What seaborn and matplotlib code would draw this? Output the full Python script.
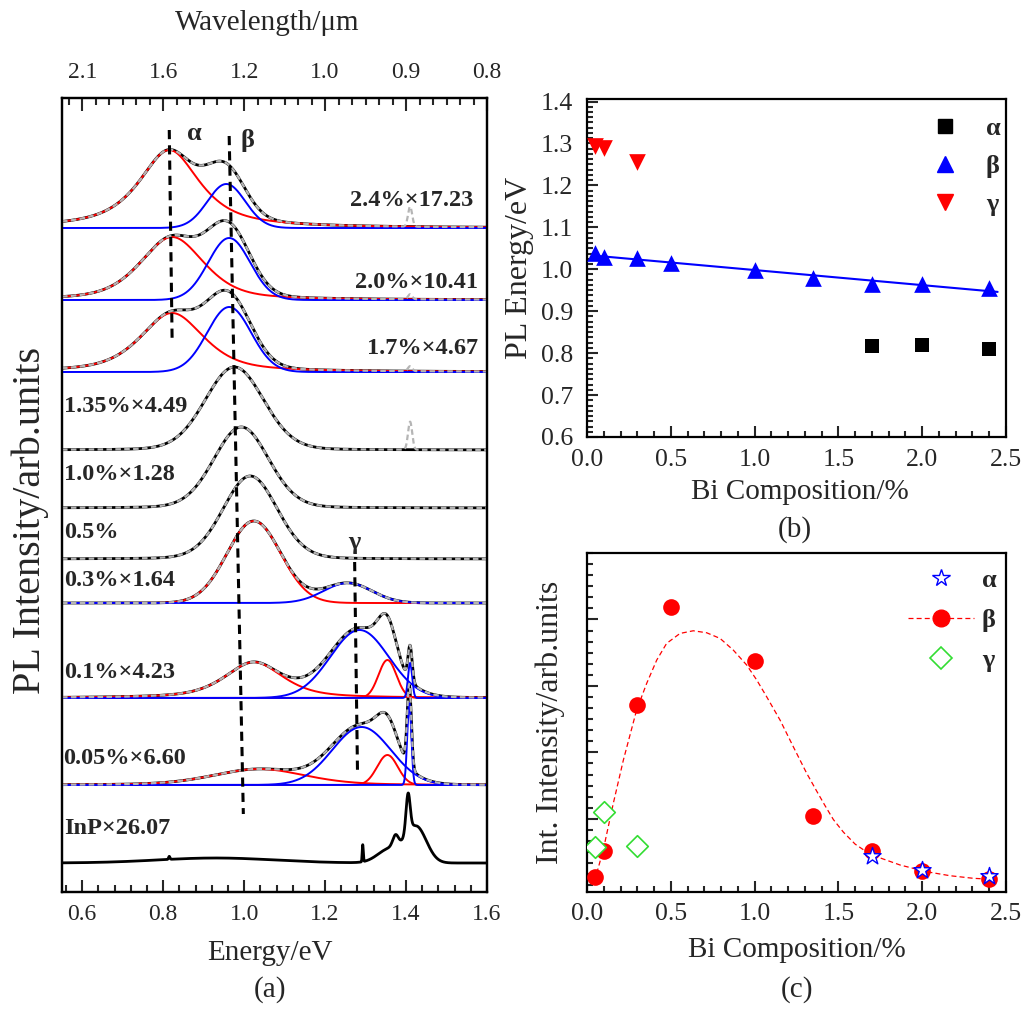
import numpy as np
import pandas as pd
import seaborn as sns
import matplotlib.pyplot as plt
from matplotlib.ticker import MultipleLocator, FixedLocator, NullFormatter
from matplotlib.lines import Line2D

sns.set_style("ticks")
plt.rcParams["font.family"] = ["Liberation Serif", "DejaVu Serif"]
plt.rcParams["mathtext.fontset"] = "stix"

# ---------------- panel (a): PL spectra (fitted peaks) ----------------
sample_labels = ["2.4%×17.23", "2.0%×10.41", "1.7%×4.67", "1.35%×4.49", "1.0%×1.28",
                 "0.5%", "0.3%×1.64", "0.1%×4.23", "0.05%×6.60", "InP×26.07"]
# vertical offsets of each spectrum (stacked plot)
offsets = [664, 592, 520, 442, 384, 333, 289, 194, 107, 29]

# fitted components: spectrum index, centre (eV), half width (eV), height, lorentz fraction, colour
comp_spec = [0, 0, 1, 1, 2, 2, 3, 4, 5, 6, 6, 7, 7, 7, 7, 8, 8, 8, 8, 9, 9, 9, 9, 9, 9, 9]
comp_center = [0.815, 0.956, 0.822, 0.963, 0.822, 0.963, 0.976, 0.993, 1.015, 1.024, 1.256,
               1.024, 1.285, 1.354, 1.410, 1.037, 1.290, 1.354, 1.408,
               0.930, 1.293, 1.360, 1.374, 1.405, 1.425, 0.815]
comp_width = [0.090, 0.055, 0.093, 0.061, 0.093, 0.064, 0.085, 0.080, 0.079, 0.078, 0.070,
              0.085, 0.085, 0.026, 0.006, 0.134, 0.085, 0.030, 0.006,
              0.170, 0.0015, 0.035, 0.008, 0.006, 0.030, 0.002]
comp_height = [78, 44, 63, 62, 59, 65, 83, 81, 83, 82, 20,
               36, 68, 38, 35, 16, 58, 30, 82,
               5, 17, 14, 11, 39, 36, 3]
comp_eta = [0.8, 0, 0.5, 0, 0.6, 0, 0.1, 0.1, 0.1, 0, 0,
            0.6, 0, 0, 0, 0.3, 0, 0, 0,
            0, 0, 0, 0, 0, 0, 0]
comp_color = ["red", "blue", "red", "blue", "red", "blue", None, None, None, "red", "blue",
              "red", "blue", "red", "blue", "red", "blue", "red", "blue",
              None, None, None, None, None, None, None]
# narrow InP line seen only in the measured (grey) curves of the top spectra
spike_spec = [0, 1, 2, 3]
spike_height = [20, 5, 5, 28]
spike_center = 1.41

# guide lines for the alpha / beta / gamma peak positions (energy at top, energy at bottom)
guide_names = ["α", "β", "γ"]
guide_e_top = [0.815, 0.963, 1.273]
guide_e_bot = [0.822, 0.998, 1.280]

top_tick_e = [0.6, 0.8, 1.0, 1.2, 1.4, 1.6]
top_tick_labels = ["2.1", "1.6", "1.2", "1.0", "0.9", "0.8"]

# ---------------- panel (b): PL energy vs Bi ----------------
bi_alpha = [1.7, 2.0, 2.4]
e_alpha = [0.816, 0.820, 0.810]
bi_beta = [0.05, 0.1, 0.3, 0.5, 1.0, 1.35, 1.7, 2.0, 2.4]
e_beta = [1.038, 1.030, 1.027, 1.015, 0.998, 0.980, 0.964, 0.965, 0.955]
bi_gamma = [0.05, 0.1, 0.3]
e_gamma = [1.294, 1.288, 1.256]
fit_b_x = [0.03, 2.45]
fit_b_y = [1.033, 0.946]

# ---------------- panel (c): integrated intensity vs Bi ----------------
int_alpha = [0.441, 0.231, 0.141]
int_beta = [0.121, 0.521, 2.712, 4.181, 3.378, 1.043, 0.521, 0.220, 0.090]
int_gamma = [0.572, 1.108, 0.592]
fit_c_x = [0.058, 0.097, 0.157, 0.217, 0.296, 0.356, 0.416, 0.475, 0.555, 0.634, 0.714,
           0.794, 0.873, 0.953, 1.013, 1.072, 1.152, 1.231, 1.311, 1.370, 1.420, 1.470,
           1.530, 1.600, 1.670, 1.730, 1.868, 2.027, 2.166, 2.305, 2.424]
fit_c_y = [0.181, 0.532, 1.234, 1.885, 2.637, 3.038, 3.389, 3.640, 3.790, 3.830, 3.800,
           3.715, 3.539, 3.314, 3.088, 2.837, 2.486, 2.085, 1.685, 1.420, 1.200, 0.990,
           0.800, 0.620, 0.500, 0.430, 0.306, 0.205, 0.145, 0.106, 0.090]

W, H = 1031, 1009
fig = plt.figure(figsize=(W / 100, H / 100), dpi=100)


def box(x0, y0, x1, y1):
    return [x0 / W, 1 - y1 / H, (x1 - x0) / W, (y1 - y0) / H]


ax_a = fig.add_axes(box(62, 98, 487, 892))
ax_b = fig.add_axes(box(587, 99, 1006, 437))
ax_c = fig.add_axes(box(587, 553, 1006, 892))

TICK_A = 17
TICK_BC = 18.5
LAB = 21


def profile(e, c, w, h, eta):
    u = (e - c) / w
    return h * (eta / (1 + u ** 2) + (1 - eta) * np.exp(-np.log(2) * u ** 2))


energy = np.linspace(0.55, 1.6, 2101)
comps = pd.DataFrame({"spec": comp_spec, "c": comp_center, "w": comp_width,
                      "h": comp_height, "eta": comp_eta, "color": comp_color})

for i, off in enumerate(offsets):
    sub = comps[comps.spec == i]
    parts = [(profile(energy, r.c, r.w, r.h, r.eta), r.color) for r in sub.itertuples()]
    total = sum(p for p, _ in parts)
    sns.lineplot(x=energy, y=total + off, ax=ax_a, color="black", lw=2.0,
                 estimator=None, sort=False, zorder=3)
    for p, col in parts:
        if col is not None:
            sns.lineplot(x=energy, y=p + off, ax=ax_a, color=col, lw=1.4,
                         estimator=None, sort=False, zorder=4)
    if i < 9:
        meas = total.copy()
        if i in spike_spec:
            meas = meas + profile(energy, spike_center, 0.006, spike_height[spike_spec.index(i)], 0)
        sns.lineplot(x=energy, y=meas + off, ax=ax_a, color="#b5b5b5", lw=1.6,
                     ls=(0, (2.5, 1.5)), estimator=None, sort=False, zorder=5)

# guide lines
guide_y_top = [762, 756, 330]
guide_y_bot = [554, 78, 122]
for k in range(3):
    sns.lineplot(x=[guide_e_top[k], guide_e_bot[k]], y=[guide_y_top[k], guide_y_bot[k]],
                 ax=ax_a, color="black", lw=2.2, ls=(0, (3, 2)),
                 estimator=None, sort=False, zorder=6)

for name, ex, yy in zip(guide_names, [0.876, 1.007, 1.273], [759, 752, 350]):
    ax_a.text(ex, yy, name, fontsize=19, fontweight="bold", ha="center", va="center", zorder=7)

label_pos = [(1.565, 692, "right"), (1.577, 610, "right"), (1.577, 544, "right"),
             (0.556, 485, "left"), (0.556, 417, "left"), (0.556, 359, "left"),
             (0.556, 312, "left"), (0.556, 220, "left"), (0.553, 134, "left"),
             (0.556, 64, "left")]
for lab, (ex, yy, ha) in zip(sample_labels, label_pos):
    ax_a.text(ex, yy, lab, fontsize=17.5, fontweight="bold", ha=ha, va="center", zorder=7)

ax_a.set_xlim(0.55, 1.6)
ax_a.set_ylim(0, 794)
ax_a.set_xlabel("")
ax_a.set_ylabel("")
ax_a.set_yticks([])
ax_a.xaxis.set_major_locator(MultipleLocator(0.2))
ax_a.xaxis.set_minor_locator(MultipleLocator(0.04))
ax_a.tick_params(axis="x", which="both", direction="in", labelsize=TICK_A, pad=9)
ax_a.tick_params(axis="x", which="major", length=9, width=1.5)
ax_a.tick_params(axis="x", which="minor", length=5, width=1.5)

ax_top = ax_a.twiny()
ax_top.set_xlim(0.55, 1.6)
ax_top.xaxis.set_major_locator(FixedLocator(top_tick_e))
ax_top.set_xticklabels(top_tick_labels)
ax_top.xaxis.set_minor_locator(MultipleLocator(0.2 / 6))
ax_top.tick_params(axis="x", which="both", direction="in", labelsize=TICK_A, pad=11)
ax_top.tick_params(axis="x", which="major", length=9, width=1.5)
ax_top.tick_params(axis="x", which="minor", length=5, width=1.5)

# ---------------- panel (b) ----------------
sns.lineplot(x=fit_b_x, y=fit_b_y, ax=ax_b, color="blue", lw=1.5, estimator=None, zorder=2)
sns.scatterplot(x=bi_alpha, y=e_alpha, ax=ax_b, marker="s", s=9.5 ** 2, color="black",
                edgecolor="black", linewidth=0, zorder=3)
sns.scatterplot(x=bi_beta, y=e_beta, ax=ax_b, marker="^", s=12 ** 2, color="blue",
                edgecolor="blue", linewidth=0, zorder=3)
sns.scatterplot(x=bi_gamma, y=e_gamma, ax=ax_b, marker="v", s=12 ** 2, color="red",
                edgecolor="red", linewidth=0, zorder=3)
ax_b.set_xlim(0, 2.5)
ax_b.set_ylim(0.6, 1.406)
ax_b.xaxis.set_major_locator(MultipleLocator(0.5))
ax_b.xaxis.set_minor_locator(MultipleLocator(0.1))
ax_b.yaxis.set_major_locator(MultipleLocator(0.1))
ax_b.yaxis.set_minor_locator(MultipleLocator(0.0125))
ax_b.set_xlabel("")
ax_b.set_ylabel("")
ax_b.tick_params(which="both", direction="in", labelsize=TICK_BC, width=1.5)
ax_b.tick_params(axis="x", which="both", pad=9)
ax_b.tick_params(axis="y", which="both", pad=10)
ax_b.tick_params(which="major", length=8)
ax_b.tick_params(which="minor", length=4.5)
hb = [Line2D([], [], ls="none", marker="s", ms=9.5, color="black"),
      Line2D([], [], ls="none", marker="^", ms=12, color="blue"),
      Line2D([], [], ls="none", marker="v", ms=12, color="red")]
ax_b.legend(hb, ["α", "β", "γ"], loc="upper right", frameon=False,
            prop={"size": 19, "weight": "bold"}, handlelength=2.5,
            handletextpad=0.3, labelspacing=0.55, borderaxespad=0.2,
            bbox_to_anchor=(1.025, 0.995))

# ---------------- panel (c) ----------------
sns.lineplot(x=fit_c_x, y=fit_c_y, ax=ax_c, color="red", lw=0.9, ls=(0, (4, 2.5)),
             estimator=None, sort=False, zorder=2)
sns.scatterplot(x=bi_beta, y=int_beta, ax=ax_c, marker="o", s=12 ** 2, color="red",
                edgecolor="red", linewidth=0, zorder=3)
sns.scatterplot(x=bi_alpha, y=int_alpha, ax=ax_c, marker="*", s=13 ** 2, color="white",
                edgecolor="blue", linewidth=1.0, zorder=4)
sns.scatterplot(x=bi_gamma, y=int_gamma, ax=ax_c, marker="D", s=11 ** 2, color="white",
                edgecolor="#33dd33", linewidth=1.2, zorder=4)
ax_c.set_xlim(0, 2.5)
ax_c.set_ylim(-0.1, 5.0)
ax_c.xaxis.set_major_locator(MultipleLocator(0.5))
ax_c.xaxis.set_minor_locator(MultipleLocator(0.1))
ax_c.yaxis.set_major_locator(FixedLocator([1, 2, 3, 4]))
ax_c.yaxis.set_minor_locator(MultipleLocator(1 / 6))
ax_c.yaxis.set_major_formatter(NullFormatter())
ax_c.set_xlabel("")
ax_c.set_ylabel("")
ax_c.tick_params(which="both", direction="in", labelsize=TICK_BC, width=1.5)
ax_c.tick_params(axis="x", which="both", pad=8)
ax_c.tick_params(which="major", length=8)
ax_c.tick_params(which="minor", length=4.5)
hc = [Line2D([], [], ls="none", marker="*", ms=13, mfc="white", mec="blue", mew=1.0),
      Line2D([], [], ls=(0, (4, 2.5)), lw=0.9, marker="o", ms=12, color="red"),
      Line2D([], [], ls="none", marker="D", ms=11, mfc="white", mec="#33dd33", mew=1.2)]
ax_c.legend(hc, ["α", "β", "γ"], loc="upper right", frameon=False,
            prop={"size": 19, "weight": "bold"}, handlelength=2.5,
            handletextpad=0.3, labelspacing=0.62, borderaxespad=0.2,
            bbox_to_anchor=(1.015, 1.0))

for ax in (ax_a, ax_top, ax_b, ax_c):
    for sp in ax.spines.values():
        sp.set_linewidth(1.6)
        sp.set_color("black")
        sp.set_visible(True)
ax_b.tick_params(top=False, right=False)
ax_c.tick_params(top=False, right=False)
ax_a.tick_params(top=False, right=False, left=False)


def ftext(x, y, s, size=LAB, rot=0):
    fig.text(x / W, 1 - y / H, s, fontsize=size, ha="center", va="center", rotation=rot)


ftext(267, 23, "Wavelength/μm")
ftext(270, 953, "Energy/eV")
ftext(270, 990, "(a)")
ftext(30, 520, "PL Intensity/arb.units", size=29, rot=90)
ftext(520, 268, "PL Energy/eV", size=23, rot=90)
ftext(800, 492, "Bi Composition/%")
ftext(795, 530, "(b)")
ftext(550, 722, "Int. Intensity/arb.units", size=23, rot=90)
ftext(797, 950, "Bi Composition/%")
ftext(797, 990, "(c)")

fig.savefig("out.png", dpi=100, facecolor="white")
